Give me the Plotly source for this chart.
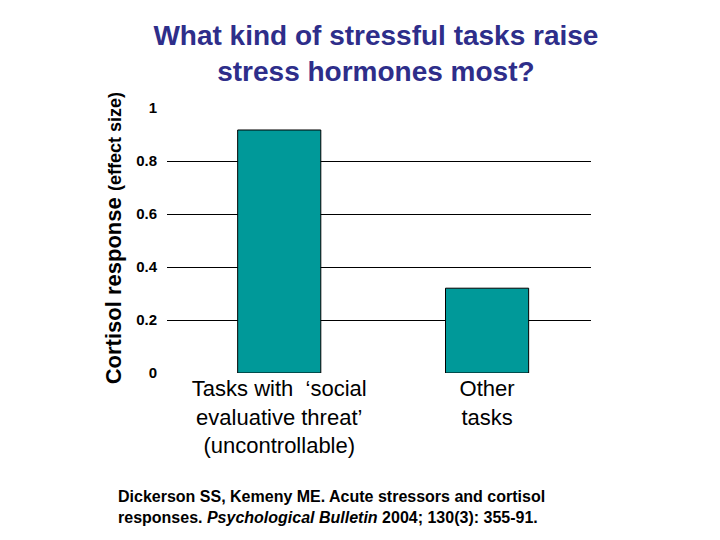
import plotly.graph_objects as go

categories = ["Tasks with  ‘social<br>evaluative threat’<br>(uncontrollable)", "Other<br>tasks"]
values = [0.917, 0.32]
y_ticks = [0, 0.2, 0.4, 0.6, 0.8, 1]
y_tick_labels = ["0", "0.2", "0.4", "0.6", "0.8", "1"]
grid_vals = [0.2, 0.4, 0.6, 0.8]

FONT = "Arial, Liberation Sans, sans-serif"

fig = go.Figure()
fig.add_trace(go.Bar(
    x=[0, 1], y=values, width=0.4,
    marker=dict(color="#009999", line=dict(color="#000000", width=1)),
    hoverinfo="skip",
))

fig.update_layout(
    width=720, height=540,
    margin=dict(l=159, r=137, t=100, b=175),
    paper_bgcolor="white", plot_bgcolor="white",
    showlegend=False,
    font=dict(family=FONT, color="black"),
    title=dict(
        text="<b>What kind of stressful tasks raise<br>stress hormones most?</b>",
        x=0.511, xanchor="center", y=0.932, yanchor="top",
        font=dict(size=28, color="#2E2E8A", family=FONT),
    ),
    xaxis=dict(
        range=[-0.54, 1.5], tickvals=[0, 1], ticktext=categories,
        showgrid=False, zeroline=False, showline=False, ticks="",
        tickfont=dict(size=22, color="black"),
    ),
    yaxis=dict(
        range=[0, 1], tickvals=y_ticks, ticktext=["<b>%s</b>" % t for t in y_tick_labels],
        showgrid=False, zeroline=False, showline=False, ticks="",
        tickfont=dict(size=15, color="black"), ticklabelstandoff=9,
    ),
    yaxis2=dict(
        range=[0, 1], overlaying="y", tickvals=grid_vals, showticklabels=False,
        showgrid=True, gridcolor="black", gridwidth=1, zeroline=False, showline=False,
    ),
    bargap=0.6,
)

# invisible trace to activate yaxis2 grid
fig.add_trace(go.Scatter(x=[0], y=[0], yaxis="y2", mode="markers",
                         marker=dict(opacity=0), hoverinfo="skip"))

fig.add_annotation(
    text="<b>Cortisol response </b><span style='font-size:18px'><b>(effect size)</b></span>",
    xref="paper", yref="paper", x=-0.127, y=0.509, xanchor="center", yanchor="middle",
    textangle=-90, showarrow=False, font=dict(size=22, family=FONT, color="black"),
)

fig.add_annotation(
    text="<b>Dickerson SS, Kemeny ME. Acute stressors and cortisol<br>responses. <i>Psychological Bulletin</i> 2004; 130(3): 355-91.</b>",
    xref="paper", yref="paper", x=-0.12, y=-0.426, xanchor="left", yanchor="top",
    align="left", showarrow=False, font=dict(size=16, family=FONT, color="black"),
)

fig.write_html("out.html")
